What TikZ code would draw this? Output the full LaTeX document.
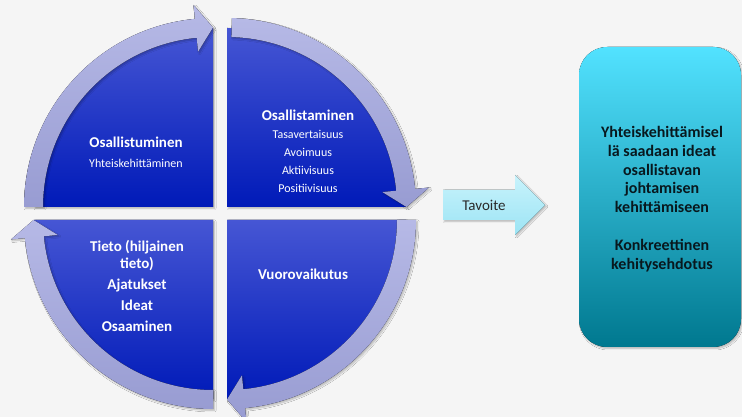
\documentclass[tikz,border=0pt]{standalone}
\usepackage{fontspec}
\setmainfont{Carlito}
\usetikzlibrary{shadows.blur}
\definecolor{bg}{HTML}{F5F5F5}
\definecolor{qtop}{HTML}{4656D4}
\definecolor{qmid}{HTML}{1A30C6}
\definecolor{qbot}{HTML}{001AB8}
\definecolor{ringtop}{HTML}{B6B9E6}
\definecolor{ringbot}{HTML}{989CD2}
\definecolor{boxtop}{HTML}{52E2FF}
\definecolor{boxmid}{HTML}{00BEE0}
\definecolor{boxbot}{HTML}{00788F}
\definecolor{goaltop}{HTML}{C8F3FC}
\definecolor{goalbot}{HTML}{9CE4F4}
\definecolor{goaltext}{HTML}{2A2A2A}
\definecolor{boxtext}{HTML}{08181E}

\tikzset{
  softshadow/.style={blur shadow={shadow xshift=1.5pt, shadow yshift=-1.5pt,
      shadow blur radius=1.5pt, shadow blur steps=6, shadow opacity=25}},
  quadrant/.style={top color=qtop, middle color=qmid, bottom color=qbot, softshadow},
  ringfill/.style={top color=ringtop, bottom color=ringbot, softshadow},
  whitetext/.style={text=white, align=center, inner sep=0pt,
      font=\fontsize{12}{18}\selectfont},
}

% curved arrow running clockwise from angle #1 to its tip at angle #2
\newcommand\ringarrow[2]{%
  \pgfmathsetmacro\headang{#2+5.5}%
  \fill[ringfill] (#1:189) arc[start angle=#1, end angle=\headang, radius=189]
     -- (\headang:203) -- (#2:179.5) -- (\headang:156) -- (\headang:170)
     arc[start angle=\headang, end angle=#1, radius=170] -- cycle;}

\begin{document}
\begin{tikzpicture}[x=1pt,y=1pt]
\fill[bg] (0,0) rectangle (742,417);
\useasboundingbox (0,0) rectangle (742,417);

% four quarter discs
\begin{scope}[shift={(213,210)}]
  \fill[quadrant] (0,0) -- (180:179) arc[start angle=180, end angle=90, radius=179] -- cycle;
\end{scope}
\begin{scope}[shift={(227,210)}]
  \fill[quadrant] (0,0) -- (90:179) arc[start angle=90, end angle=0, radius=179] -- cycle;
\end{scope}
\begin{scope}[shift={(213,197)}]
  \fill[quadrant] (0,0) -- (270:179) arc[start angle=270, end angle=180, radius=179] -- cycle;
\end{scope}
\begin{scope}[shift={(227,197)}]
  \fill[quadrant] (0,0) -- (0:179) arc[start angle=0, end angle=-90, radius=179] -- cycle;
\end{scope}

% ring arrows
\begin{scope}[shift={(213,210)}] \ringarrow{180}{90} \end{scope}
\begin{scope}[shift={(227,210)}] \ringarrow{88.5}{0} \end{scope}
\begin{scope}[shift={(227,197)}] \ringarrow{0}{-90} \end{scope}
\begin{scope}[shift={(213,197)}] \ringarrow{-90}{-180} \end{scope}

% quadrant texts
\node[whitetext] (osallistuminen) at (136,265)
  {{\bfseries\fontsize{15}{18}\selectfont Osallistuminen}\\[2pt] Yhteiskehittäminen};
\node[whitetext] (osallistaminen) at (308,266)
  {{\bfseries\fontsize{15}{18}\selectfont Osallistaminen}\\ Tasavertaisuus\\ Avoimuus\\ Aktiivisuus\\ Positiivisuus};
\node[whitetext, font=\bfseries\fontsize{15}{17}\selectfont] (tieto) at (137,131)
  {Tieto (hiljainen\\ tieto)\\[4pt] Ajatukset\\[4pt] Ideat\\[4pt] Osaaminen};
\node[whitetext, font=\bfseries\fontsize{15}{18}\selectfont] (vuoro) at (303,143) {Vuorovaikutus};

% goal arrow
\fill[top color=goaltop, bottom color=goalbot, softshadow]
  (443,197) -- (515,197) -- (515,182) -- (545,212) -- (515,242) -- (515,227) -- (443,227) -- cycle;
\node[text=goaltext, font=\fontsize{15}{18}\selectfont, inner sep=0pt] (tavoite) at (484,212) {Tavoite};

% result box
\fill[top color=boxtop, middle color=boxmid, bottom color=boxbot, rounded corners=28pt, softshadow]
  (579,70) rectangle (741,370);
\node[text=boxtext, align=center, inner sep=0pt, font=\bfseries\fontsize{16}{18.8}\selectfont] (tulos) at (662,218)
  {Yhteiskehittämisel\\ lä saadaan ideat\\ osallistavan\\ johtamisen\\ kehittämiseen\\[18.8pt] Konkreettinen\\ kehitysehdotus};
\end{tikzpicture}
\end{document}
